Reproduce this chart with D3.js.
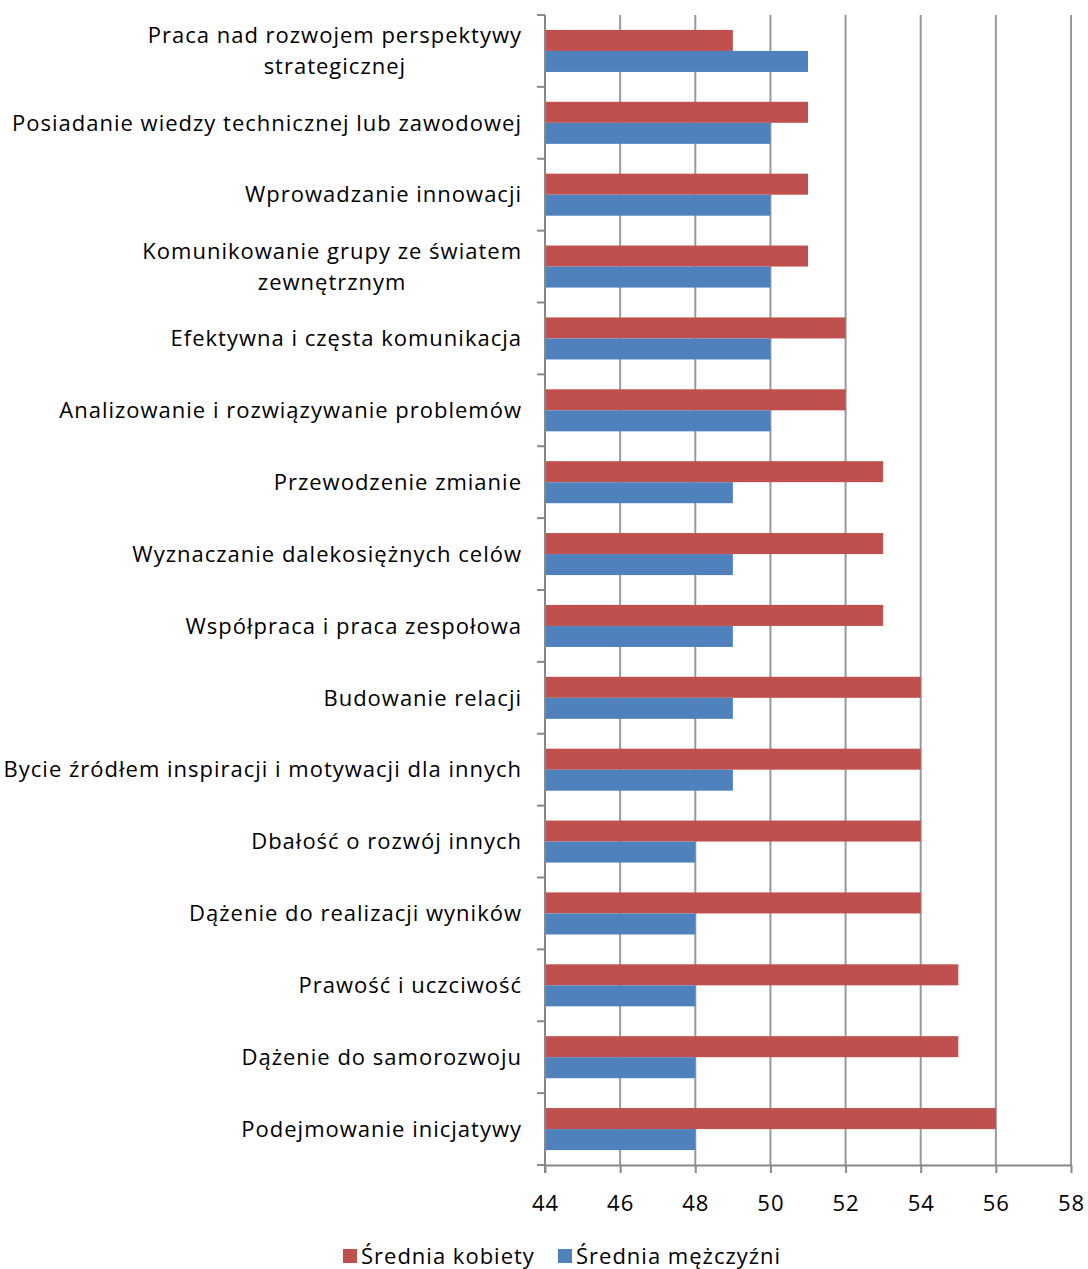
<!DOCTYPE html>
<html>
<head>
<meta charset="utf-8">
<script src="https://cdn.jsdelivr.net/npm/d3@7"></script>
<style>
  body { margin: 0; background: #fff; }
  svg text { font-family: "Open Sans", sans-serif; fill: #000; letter-spacing: 1px; }
</style>
</head>
<body>
<svg id="chart" width="1088" height="1269"></svg>
<script>
/// data ///
const categories = [
  ["Praca nad rozwojem perspektywy", "strategicznej"],
  ["Posiadanie wiedzy technicznej lub zawodowej"],
  ["Wprowadzanie innowacji"],
  ["Komunikowanie grupy ze światem", "zewnętrznym"],
  ["Efektywna i częsta komunikacja"],
  ["Analizowanie i rozwiązywanie problemów"],
  ["Przewodzenie zmianie"],
  ["Wyznaczanie dalekosiężnych celów"],
  ["Współpraca i praca zespołowa"],
  ["Budowanie relacji"],
  ["Bycie źródłem inspiracji i motywacji dla innych"],
  ["Dbałość o rozwój innych"],
  ["Dążenie do realizacji wyników"],
  ["Prawość i uczciwość"],
  ["Dążenie do samorozwoju"],
  ["Podejmowanie inicjatywy"]
];
const womenValues = [49, 51, 51, 51, 52, 52, 53, 53, 53, 54, 54, 54, 54, 55, 55, 56];
const menValues   = [51, 50, 50, 50, 50, 50, 49, 49, 49, 49, 49, 48, 48, 48, 48, 48];
const seriesNames = ["Średnia kobiety", "Średnia mężczyźni"];
const seriesColors = ["#C0504D", "#4F81BD"];
const xTicks = [44, 46, 48, 50, 52, 54, 56, 58];

/// dimensions ///
const margin = {top: 15, left: 545, right: 17, bottom: 104};
const width = 1088, height = 1269;

const svg = d3.select("#chart");

const x = d3.scaleLinear().domain([44, 58]).range([margin.left, width - margin.right]);
const y = d3.scaleBand().domain(d3.range(categories.length))
  .range([margin.top, height - margin.bottom]).paddingInner(0).paddingOuter(0);
const inner = d3.scaleBand().domain([0, 1]).range([0, y.bandwidth()]).paddingOuter(0.71).paddingInner(0);

// gridlines
svg.append("g").selectAll("line").data(xTicks.slice(1)).join("line")
  .attr("x1", d => x(d)).attr("x2", d => x(d))
  .attr("y1", margin.top).attr("y2", height - margin.bottom)
  .attr("stroke", "#999").attr("stroke-width", 2);

// bars
const rows = svg.append("g").selectAll("g").data(d3.range(categories.length)).join("g")
  .attr("transform", i => `translate(0,${y(i)})`);
rows.selectAll("rect").data(i => [womenValues[i], menValues[i]]).join("rect")
  .attr("x", x(44))
  .attr("y", (d, j) => inner(j))
  .attr("width", d => x(d) - x(44))
  .attr("height", inner.bandwidth())
  .attr("fill", (d, j) => seriesColors[j]);

// y axis line + ticks at band boundaries
const yAxisG = svg.append("g");
yAxisG.append("line")
  .attr("x1", x(44)).attr("x2", x(44))
  .attr("y1", margin.top).attr("y2", height - margin.bottom + 8)
  .attr("stroke", "#888").attr("stroke-width", 2);
yAxisG.selectAll(".ytick").data(d3.range(categories.length + 1)).join("line")
  .attr("class", "ytick")
  .attr("x1", x(44) - 8).attr("x2", x(44))
  .attr("y1", i => margin.top + i * y.step()).attr("y2", i => margin.top + i * y.step())
  .attr("stroke", "#888").attr("stroke-width", 2);

// x axis
const xAxis = d3.axisBottom(x).tickValues(xTicks).tickSize(8).tickSizeOuter(0).tickPadding(22);
const xg = svg.append("g")
  .attr("transform", `translate(0,${height - margin.bottom})`)
  .call(xAxis);
xg.select(".domain").attr("stroke", "#888").attr("stroke-width", 2);
xg.selectAll(".tick line").attr("stroke", "#888").attr("stroke-width", 2);
xg.selectAll(".tick text").attr("font-size", 22).attr("font-family", "Open Sans").attr("fill", "#000");

// category labels - wrapped lines centred on each other, block right-aligned
const labels = svg.append("g").selectAll("text").data(categories).join("text")
  .attr("font-size", 22)
  .attr("text-anchor", "middle");
labels.each(function(lines, i) {
  const t = d3.select(this);
  const cy = y(i) + y.bandwidth() / 2;
  lines.forEach((ln, k) => {
    t.append("tspan").text(ln)
      .attr("x", 0)
      .attr("y", cy + (k - (lines.length - 1) / 2) * 31)
      .attr("dy", "0.35em");
  });
  const w = this.getBBox().width;
  t.selectAll("tspan").attr("x", 522 - w / 2);
});

// legend
const legend = svg.append("g").attr("transform", `translate(0,${1256})`);
const legendX = [343, 558];
seriesNames.forEach((name, j) => {
  legend.append("rect").attr("x", legendX[j]).attr("y", -7).attr("width", 14).attr("height", 14)
    .attr("fill", seriesColors[j]);
  legend.append("text").attr("x", legendX[j] + 18).attr("y", 0).attr("dy", "0.35em")
    .attr("font-size", 22).text(name);
});
</script>
</body>
</html>
